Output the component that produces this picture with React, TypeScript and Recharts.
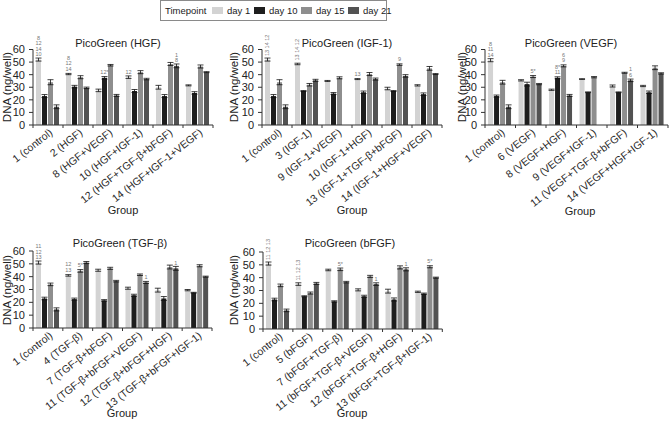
import React from 'react';
import { BarChart, Bar, XAxis, YAxis, ErrorBar, LabelList } from 'recharts';

const SERIES_NAMES = ['day 1', 'day 10', 'day 15', 'day 21'];
const SERIES_COLORS = ['#d3d3d3', '#1e1e1e', '#8e8e8e', '#525252'];
const SERIES_KEYS = ['d1', 'd10', 'd15', 'd21'];
const Y_TICKS = [0, 10, 20, 30, 40, 50, 60];
const FONT = '"Liberation Sans", Arial, Helvetica, sans-serif';
const NARROW = '"Liberation Sans Narrow", "Liberation Sans", Arial, sans-serif';

// Panel: PicoGreen (HGF)
const HGF_GROUPS = ['1 (control)', '2 (HGF)', '8 (HGF+VEGF)', '10 (HGF+IGF-1)', '12 (HGF+TGF-β+bFGF)', '14 (HGF+IGF-1+VEGF)'];
const HGF_VALUES = [
  [52, 40.5, 27.5, 38, 30, 31.5],
  [23, 30.5, 37.5, 27, 23, 25.5],
  [34, 38, 47.5, 42, 48.5, 46.5],
  [14.5, 29.5, 23.5, 36.5, 47, 42],
];
const HGF_ERRORS = [
  [1.2, 0.5, 1, 1, 1.5, 0.4],
  [1.2, 1, 1, 1.2, 1.2, 1],
  [2, 1.2, 0.6, 1.2, 1.2, 1.2],
  [1.5, 0.6, 0.8, 0.6, 1.5, 0.4],
];
const HGF_NOTES = [
  ['8|12|14|10', '8|12|14', '', '12', '', ''],
  ['', '', '12*', '', '', ''],
  ['', '', '', '', '', ''],
  ['', '', '', '', '1|8', ''],
];

// Panel: PicoGreen (IGF-1)
const IGF_GROUPS = ['1 (control)', '3 (IGF-1)', '9 (IGF-1+VEGF)', '10 (IGF-1+HGF)', '13 (IGF-1+TGF-β+bFGF)', '14 (IGF-1+HGF+VEGF)'];
const IGF_VALUES = [
  [52, 48.5, 35, 36.5, 29, 31.5],
  [23, 27, 25, 26, 27, 24.5],
  [34, 32, 37.5, 40.5, 48, 45],
  [14.5, 35.5, null, 36.5, 39, 40.5],
];
const IGF_ERRORS = [
  [1.2, 0.6, 0.4, 0.4, 1, 0.5],
  [1.2, 0.4, 0.8, 1, 0.4, 1],
  [2, 1, 0.8, 1.2, 0.6, 1.5],
  [1.5, 0.8, 0, 0.8, 1, 0.4],
];
const IGF_NOTES = [
  ['13|14|12', '13|14|12', '', '13', '', ''],
  ['', '', '', '', '', ''],
  ['', '', '', '', '9', ''],
  ['', '', '', '', '', ''],
];

// Panel: PicoGreen (VEGF)
const VEGF_GROUPS = ['1 (control)', '6 (VEGF)', '8 (VEGF+HGF)', '9 (VEGF+IGF-1)', '11 (VEGF+TGF-β+bFGF)', '14 (VEGF+HGF+IGF-1)'];
const VEGF_VALUES = [
  [51.5, 35.5, 28, 36.5, 31, 31],
  [23, 32.5, 37.5, 26, 26, 26],
  [34, 38.5, 47, 38, 41.5, 45.5],
  [14.5, 32.5, 23.5, null, 35.5, 41],
];
const VEGF_ERRORS = [
  [1.2, 0.5, 0.5, 0.3, 0.8, 0.5],
  [0.8, 1.5, 0.8, 0.3, 0.3, 1],
  [1.5, 0.8, 0.8, 0.5, 0.4, 1.5],
  [1.5, 0.5, 0.8, 0, 1, 0.5],
];
const VEGF_NOTES = [
  ['8|11|14', '', '', '', '', ''],
  ['', '', '8*|11', '', '', ''],
  ['', '5*', '6|9', '', '', ''],
  ['', '', '', '', '1|6', ''],
];

// Panel: PicoGreen (TGF-β)
const TGF_GROUPS = ['1 (control)', '4 (TGF-β)', '7 (TGF-β+bFGF)', '11 (TGF-β+bFGF+VEGF)', '12 (TGF-β+bFGF+HGF)', '13 (TGF-β+bFGF+IGF-1)'];
const TGF_VALUES = [
  [51, 41, 45, 31, 29.5, 29.5],
  [23, 22.5, 21.5, 25.5, 23, 27.5],
  [34, 44.5, 46.5, 41.5, 47.5, 48.5],
  [14.5, 51, 36.5, 35.5, 46.5, 40],
];
const TGF_ERRORS = [
  [1.2, 0.6, 0.8, 0.8, 1.5, 0.5],
  [1, 0.8, 0.6, 0.8, 1.5, 0.3],
  [1, 1, 0.8, 0.6, 1.5, 0.8],
  [1.2, 0.8, 0.6, 0.8, 1.5, 0.4],
];
const TGF_NOTES = [
  ['11|12|13', '12|13', '', '', '', ''],
  ['', '', '', '', '', ''],
  ['', '5*', '', '', '', ''],
  ['', '', '', '1', '1', ''],
];

// Panel: PicoGreen (bFGF)
const BFGF_GROUPS = ['1 (control)', '5 (bFGF)', '7 (bFGF+TGF-β)', '11 (bFGF+TGF-β+VEGF)', '12 (bFGF+TGF-β+HGF)', '13 (bFGF+TGF-β+IGF-1)'];
const BFGF_VALUES = [
  [51, 35, 46, 30.5, 29.5, 29],
  [23, 25.5, 21.5, 25.5, 23, 27.5],
  [34, 28, 46.5, 41, 48, 48.5],
  [14.5, 35.5, 36.5, 35, 46.5, 40],
];
const BFGF_ERRORS = [
  [1.2, 1, 0.6, 0.8, 1.5, 0.5],
  [1, 0.4, 0.5, 0.8, 1.2, 0.5],
  [1, 0.8, 1, 0.8, 1.2, 0.8],
  [1, 0.8, 0.6, 1, 1.2, 0.4],
];
const BFGF_NOTES = [
  ['11|12|13', '11|12|13', '', '', '', ''],
  ['', '', '', '', '', ''],
  ['', '', '5*', '', '', '5*'],
  ['', '', '', '1', '1', ''],
];

function GroupTick(props: any) {
  const { x, y, payload, index, band, count } = props;
  const tx = x + 3;
  const ty = y + 6;
  return (
    <g>
      <line x1={x - band / 2} y1={y} x2={x - band / 2} y2={y + 3} stroke="#333" strokeWidth={1} />
      {index === count - 1 ? (
        <line x1={x + band / 2} y1={y} x2={x + band / 2} y2={y + 3} stroke="#333" strokeWidth={1} />
      ) : null}
      <text
        x={tx}
        y={ty}
        dy="0.35em"
        textAnchor="end"
        fontSize={10.5}
        fill="#2a2a2a"
        fontFamily={FONT}
        transform={`rotate(-38, ${tx}, ${ty})`}
      >
        {payload.value}
      </text>
    </g>
  );
}

function Note(props: any) {
  const { x, y, width, value, vertical } = props;
  if (value === undefined || value === null || value === '') return null;
  const lines = String(value).split('|');
  const cx = Number(x) + Number(width) / 2;
  const base = Number(y) - 3.5;
  if (vertical && lines.length > 1) {
    return (
      <text
        x={cx}
        y={base}
        fontSize={5.5}
        fill="#777"
        fontFamily={FONT}
        textAnchor="start"
        dy="0.35em"
        transform={`rotate(-90, ${cx}, ${base})`}
      >
        {lines.join(' ')}
      </text>
    );
  }
  return (
    <g>
      {lines.map((ln, i) => (
        <text
          key={i}
          x={cx}
          y={base - (lines.length - 1 - i) * 5.5}
          fontSize={5.5}
          fill="#777"
          fontFamily={FONT}
          textAnchor="middle"
        >
          {ln}
        </text>
      ))}
    </g>
  );
}

function Panel(props: any) {
  const { groups, values, errors, notes, left, top, width, height, plotWidth, marginTop, xAxisHeight, verticalNotes } = props;
  const rows = groups.map((g: string, i: number) => {
    const r: any = { group: g };
    SERIES_KEYS.forEach((k, s) => {
      r[k] = values[s][i];
      r['e' + s] = errors[s][i];
      r['n' + s] = notes[s][i];
    });
    return r;
  });
  const band = plotWidth / groups.length;
  const yw = 33;
  return (
    <div style={{ position: 'absolute', left, top, width, height }}>
      <BarChart
        width={width}
        height={height}
        data={rows}
        margin={{ top: marginTop, right: width - yw - plotWidth, left: 0, bottom: 0 }}
        barCategoryGap="10%"
        barGap={1}
      >
        <XAxis
          dataKey="group"
          interval={0}
          height={xAxisHeight}
          tickLine={false}
          tickSize={0}
          tickMargin={0}
          axisLine={{ stroke: '#333' }}
          tick={(p: any) => <GroupTick {...p} band={band} count={groups.length} />}
        />
        <YAxis
          type="number"
          domain={[0, 60]}
          ticks={Y_TICKS}
          interval={0}
          width={yw}
          tickSize={4}
          tickMargin={4}
          axisLine={{ stroke: '#333' }}
          tickLine={{ stroke: '#333' }}
          tick={{ fontSize: 11, fill: '#222', fontFamily: FONT }}
        />
        {SERIES_KEYS.map((k, s) => (
          <Bar key={k} dataKey={k} name={SERIES_NAMES[s]} fill={SERIES_COLORS[s]} isAnimationActive={false}>
            <ErrorBar dataKey={'e' + s} width={3} stroke="#111" strokeWidth={0.8} />
            <LabelList dataKey={'n' + s} content={(p: any) => <Note {...p} vertical={verticalNotes} />} />
          </Bar>
        ))}
      </BarChart>
    </div>
  );
}

const TITLES = ['PicoGreen (HGF)', 'PicoGreen (IGF-1)', 'PicoGreen (VEGF)', 'PicoGreen (TGF-β)', 'PicoGreen (bFGF)'];

export default function App() {
  const titlePos = [
    [118, 43], [347, 43], [571, 43], [120, 243], [350, 243],
  ];
  const groupPos = [
    [123, 210], [352, 210], [580, 211], [122, 413], [352, 413],
  ];
  const yLabelPos = [
    [7, 87], [234, 87], [462, 87], [7, 290], [234, 290],
  ];
  return (
    <div style={{ position: 'absolute', left: 0, top: 0, width: 672, height: 421, overflow: 'hidden', background: '#fff', fontFamily: NARROW }}>
      <Panel groups={HGF_GROUPS} values={HGF_VALUES} errors={HGF_ERRORS} notes={HGF_NOTES}
        left={0} top={30} width={230} height={190} plotWidth={180} marginTop={19.5} xAxisHeight={95} />
      <Panel groups={IGF_GROUPS} values={IGF_VALUES} errors={IGF_ERRORS} notes={IGF_NOTES} verticalNotes
        left={229} top={30} width={230} height={190} plotWidth={180} marginTop={19.5} xAxisHeight={95} />
      <Panel groups={VEGF_GROUPS} values={VEGF_VALUES} errors={VEGF_ERRORS} notes={VEGF_NOTES}
        left={452} top={30} width={220} height={190} plotWidth={183} marginTop={19.5} xAxisHeight={95} />
      <Panel groups={TGF_GROUPS} values={TGF_VALUES} errors={TGF_ERRORS} notes={TGF_NOTES}
        left={0} top={230} width={230} height={190} plotWidth={179} marginTop={21} xAxisHeight={92} />
      <Panel groups={BFGF_GROUPS} values={BFGF_VALUES} errors={BFGF_ERRORS} notes={BFGF_NOTES} verticalNotes
        left={229.7} top={230} width={230} height={190} plotWidth={179.3} marginTop={22} xAxisHeight={91} />

      <svg width={672} height={421} style={{ position: 'absolute', left: 0, top: 0, pointerEvents: 'none' }}>
        {TITLES.map((t, i) => (
          <text key={'t' + i} x={titlePos[i][0]} y={titlePos[i][1]} dy="0.35em" textAnchor="middle" fontSize={11} fill="#222" fontFamily={NARROW}>{t}</text>
        ))}
        {groupPos.map((p, i) => (
          <text key={'g' + i} x={p[0]} y={p[1]} dy="0.35em" textAnchor="middle" fontSize={11} fill="#222" fontFamily={NARROW}>Group</text>
        ))}
        {yLabelPos.map((p, i) => (
          <text key={'y' + i} x={p[0]} y={p[1]} dy="0.35em" textAnchor="middle" fontSize={11.5} fill="#222" fontFamily={NARROW}
            transform={`rotate(-90, ${p[0]}, ${p[1]})`}>DNA (ng/well)</text>
        ))}
      </svg>

      <div style={{ position: 'absolute', left: 160, top: 0, width: 227, height: 21, border: '1px solid #8a8a8a', boxSizing: 'border-box', fontSize: 9.5, color: '#222', whiteSpace: 'nowrap', lineHeight: '11px' }}>
        <span style={{ position: 'absolute', left: 4, top: 4 }}>Timepoint</span>
        {SERIES_NAMES.map((n, i) => {
          const sx = [51, 93, 140, 187][i];
          return (
            <React.Fragment key={n}>
              <span style={{ position: 'absolute', left: sx, top: 6, width: 11, height: 7, background: SERIES_COLORS[i] }} />
              <span style={{ position: 'absolute', left: sx + 15, top: 4 }}>{n}</span>
            </React.Fragment>
          );
        })}
      </div>
    </div>
  );
}
